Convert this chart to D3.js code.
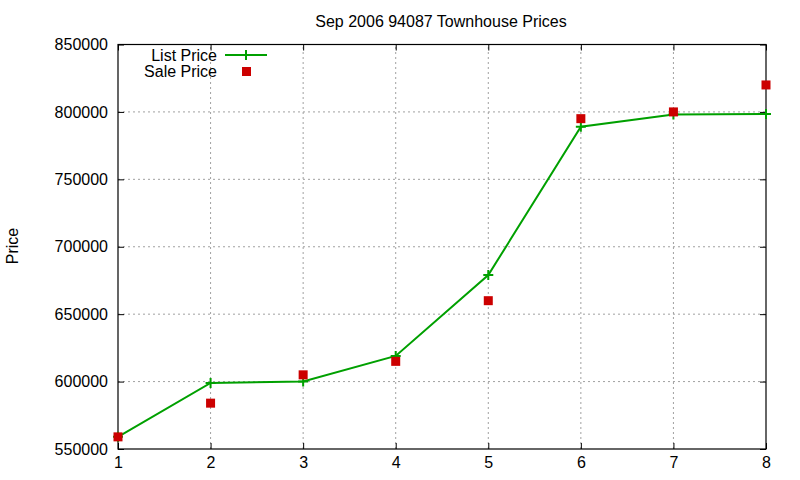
<!DOCTYPE html>
<html>
<head>
<meta charset="utf-8">
<script src="https://cdn.jsdelivr.net/npm/d3@7"></script>
<style>
  body { margin: 0; background: #fff; }
  text { font-family: "Liberation Sans", Arial, sans-serif; fill: #000; }
</style>
</head>
<body>
<script>
// data
const months = [1, 2, 3, 4, 5, 6, 7, 8];
const listPrice = [559000, 599000, 600000, 619000, 679000, 789000, 798000, 798500];
const salePrice = [559000, 584000, 605000, 615000, 660000, 795000, 800000, 820000];
const yTicks = [550000, 600000, 650000, 700000, 750000, 800000, 850000];

const W = 800, H = 480;
const margin = {top: 44.5, right: 34, bottom: 31, left: 118};
const green = "#00a000", red = "#cc0000";

const svg = d3.select("body").append("svg")
  .attr("width", W)
  .attr("height", H);

const x = d3.scaleLinear().domain([1, 8]).range([margin.left, W - margin.right]);
const y = d3.scaleLinear().domain([550000, 850000]).range([H - margin.bottom, margin.top]);

//grid
svg.append("g")
  .selectAll("line")
  .data(months.slice(1, -1))
  .enter().append("line")
  .attr("x1", d => x(d)).attr("x2", d => x(d))
  .attr("y1", y(550000)).attr("y2", y(850000))
  .attr("stroke", "#a0a0a0").attr("stroke-dasharray", "2,3");

svg.append("g")
  .selectAll("line")
  .data(yTicks.slice(1, -1))
  .enter().append("line")
  .attr("x1", x(1)).attr("x2", x(8))
  .attr("y1", d => y(d)).attr("y2", d => y(d))
  .attr("stroke", "#a0a0a0").attr("stroke-dasharray", "2,3");

//axes, ticks mirrored inward like gnuplot
const fmt = d3.format("d");
svg.append("g")
  .attr("transform", `translate(0,${y(550000)})`)
  .call(d3.axisBottom(x).tickValues(months).tickFormat(fmt).tickSizeInner(-6).tickSizeOuter(0).tickPadding(8))
  .call(g => g.select(".domain").remove())
  .call(g => g.selectAll("text").attr("font-size", 16).attr("font-family", "Liberation Sans, Arial, sans-serif"));

svg.append("g")
  .attr("transform", `translate(0,${y(850000)})`)
  .call(d3.axisTop(x).tickValues(months).tickFormat("").tickSizeInner(-6).tickSizeOuter(0))
  .call(g => g.select(".domain").remove());

svg.append("g")
  .attr("transform", `translate(${x(1)},0)`)
  .call(d3.axisLeft(y).tickValues(yTicks).tickFormat(fmt).tickSizeInner(-6).tickSizeOuter(0).tickPadding(10))
  .call(g => g.select(".domain").remove())
  .call(g => g.selectAll("text").attr("font-size", 16).attr("font-family", "Liberation Sans, Arial, sans-serif"));

svg.append("g")
  .attr("transform", `translate(${x(8)},0)`)
  .call(d3.axisRight(y).tickValues(yTicks).tickFormat("").tickSizeInner(-6).tickSizeOuter(0))
  .call(g => g.select(".domain").remove());

svg.append("rect")
  .attr("x", x(1)).attr("y", y(850000))
  .attr("width", x(8) - x(1)).attr("height", y(550000) - y(850000))
  .attr("fill", "none").attr("stroke", "#000").attr("stroke-width", 1.2);

//title + y label
svg.append("text")
  .attr("x", 441).attr("y", 27)
  .attr("text-anchor", "middle")
  .attr("font-size", 16)
  .text("Sep 2006 94087 Townhouse Prices");

svg.append("text")
  .attr("transform", "translate(18,246) rotate(-90)")
  .attr("text-anchor", "middle")
  .attr("font-size", 16)
  .text("Price");

//list price line
const line = d3.line()
  .x((d, i) => x(months[i]))
  .y(d => y(d));

svg.append("path")
  .datum(listPrice)
  .attr("d", line)
  .attr("fill", "none")
  .attr("stroke", green)
  .attr("stroke-width", 2);

function drawPlus(g, cx, cy) {
  g.append("path")
    .attr("d", `M${cx - 5},${cy}H${cx + 5}M${cx},${cy - 5}V${cy + 5}`)
    .attr("stroke", green).attr("stroke-width", 2).attr("fill", "none");
}
const pts = svg.append("g");
listPrice.forEach((d, i) => drawPlus(pts, x(months[i]), y(d)));

//sale price squares
svg.append("g")
  .selectAll("rect")
  .data(salePrice)
  .enter().append("rect")
  .attr("x", (d, i) => x(months[i]) - 4.5)
  .attr("y", d => y(d) - 4.5)
  .attr("width", 9).attr("height", 9)
  .attr("fill", red);

//legend
const legend = svg.append("g");
legend.append("text")
  .attr("x", 217).attr("y", 61)
  .attr("text-anchor", "end").attr("font-size", 16)
  .text("List Price");
legend.append("line")
  .attr("x1", 225).attr("x2", 267).attr("y1", 55).attr("y2", 55)
  .attr("stroke", green).attr("stroke-width", 2);
drawPlus(legend, 246, 55);
legend.append("text")
  .attr("x", 217).attr("y", 77)
  .attr("text-anchor", "end").attr("font-size", 16)
  .text("Sale Price");
legend.append("rect")
  .attr("x", 242).attr("y", 67).attr("width", 9).attr("height", 9)
  .attr("fill", red);
</script>
</body>
</html>
